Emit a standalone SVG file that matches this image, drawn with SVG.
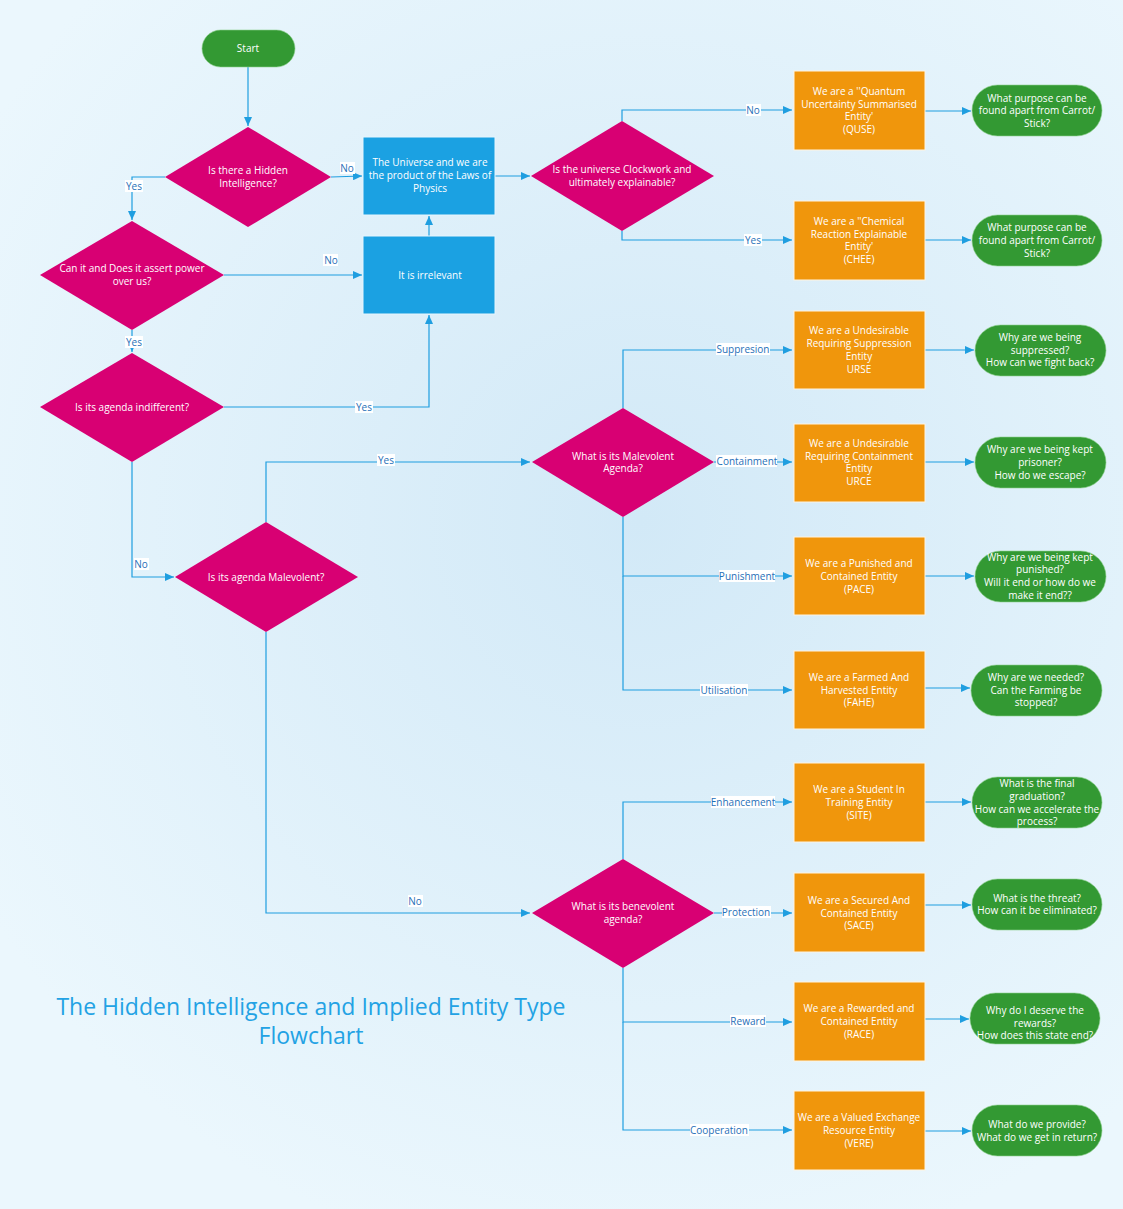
<svg xmlns="http://www.w3.org/2000/svg" width="1123" height="1209" viewBox="0 0 1123 1209">
<defs>
<radialGradient id="bg" cx="640" cy="520" r="760" gradientUnits="userSpaceOnUse">
<stop offset="0" stop-color="#d2e9f7"/>
<stop offset="1" stop-color="#ebf7fd"/>
</radialGradient>
<marker id="arr" markerWidth="9" markerHeight="8" refX="9" refY="4" orient="auto" markerUnits="userSpaceOnUse">
<path d="M0,0 L9,4 L0,8 Z" fill="#1f9ee0"/>
</marker>
<style>
text{font-family:"Open Sans","Noto Sans",sans-serif;}
.n text{fill:#ffffff;font-size:10px;text-anchor:middle;}
.dia{fill:#d80073;}
.org{fill:#f0960c;stroke:#fff4e0;stroke-width:1;}
.blu{fill:#1ba1e2;stroke:#e6f5fd;stroke-width:1;}
.grn{fill:#339933;stroke:#8fd08f;stroke-width:0.6;}
.c path{fill:none;stroke:#1f9ee0;stroke-width:1.2;marker-end:url(#arr);}
.lb rect{fill:#ffffff;}
.lb text{fill:#1f6fb8;font-size:10px;text-anchor:middle;}
.title{fill:#23a2e4;font-size:23px;text-anchor:middle;}
</style>
</defs>
<rect x="0" y="0" width="1123" height="1209" fill="url(#bg)"/>

<g id="connectors" class="c">
<path d="M248,67 V126"/>
<path d="M331,177 L362,176"/>
<path d="M429,236 V216"/>
<path d="M495,176 H530"/>
<path d="M622,121 V110 H792"/>
<path d="M622,231 V240 H792"/>
<path d="M925,111 H971"/>
<path d="M925,240 H971"/>
<path d="M165,177 H132 V220"/>
<path d="M224,275 H362"/>
<path d="M132,330 V352"/>
<path d="M224,407 H429 V315"/>
<path d="M132,462 V577 H174"/>
<path d="M266,522 V462 H530"/>
<path d="M266,632 V913 H530"/>
<path d="M623,408 V350 H792"/>
<path d="M714,462 H792"/>
<path d="M623,517 V576 H792"/>
<path d="M623,576 V690 H792"/>
<path d="M925,350 H974"/>
<path d="M925,462 H974"/>
<path d="M925,576 H974"/>
<path d="M919,688 H970"/>
<path d="M623,859 V802 H792"/>
<path d="M714,913 H792"/>
<path d="M623,968 V1022 H792"/>
<path d="M623,1022 V1130 H792"/>
<path d="M925,802 H971"/>
<path d="M922,905 H971"/>
<path d="M920,1019 H969"/>
<path d="M922,1131 H971"/>
</g>

<g id="labels" class="lb">
<rect x="340" y="162" width="15" height="12"/><text x="347" y="172">No</text>
<rect x="125" y="180" width="18" height="12"/><text x="134" y="190">Yes</text>
<rect x="323" y="254" width="15" height="12"/><text x="331" y="264">No</text>
<rect x="125" y="336" width="18" height="12"/><text x="134" y="346">Yes</text>
<rect x="355" y="401" width="18" height="12"/><text x="364" y="411">Yes</text>
<rect x="134" y="558" width="15" height="12"/><text x="141" y="568">No</text>
<rect x="377" y="454" width="18" height="12"/><text x="386" y="464">Yes</text>
<rect x="408" y="895" width="15" height="12"/><text x="415" y="905">No</text>
<rect x="746" y="104" width="15" height="12"/><text x="753" y="114">No</text>
<rect x="744" y="234" width="18" height="12"/><text x="753" y="244">Yes</text>
<rect x="716" y="343" width="54" height="12"/><text x="743" y="353">Suppresion</text>
<rect x="716" y="455" width="61" height="12"/><text x="747" y="465">Containment</text>
<rect x="719" y="570" width="56" height="12"/><text x="747" y="580">Punishment</text>
<rect x="700" y="684" width="48" height="12"/><text x="724" y="694">Utilisation</text>
<rect x="711" y="796" width="64" height="12"/><text x="743" y="806">Enhancement</text>
<rect x="722" y="906" width="49" height="12"/><text x="746" y="916">Protection</text>
<rect x="730" y="1015" width="36" height="12"/><text x="748" y="1025">Reward</text>
<rect x="690" y="1124" width="59" height="12"/><text x="719" y="1134">Cooperation</text>
</g>

<g id="start" class="n"><rect class="grn" x="202" y="30" width="93" height="37" rx="18.5"/><text x="248" y="52">Start</text></g>

<g id="d1" class="n"><polygon class="dia" points="248,127 331,177 248,227 165,177"/><text x="248" y="174">Is there a Hidden</text><text x="248" y="187">Intelligence?</text></g>

<g id="universe" class="n"><rect class="blu" x="363" y="137" width="132" height="78"/><text x="430" y="166">The Universe and we are</text><text x="430" y="179">the product of the Laws of</text><text x="430" y="192">Physics</text></g>

<g id="irrelevant" class="n"><rect class="blu" x="363" y="236" width="132" height="78"/><text x="430" y="279">It is irrelevant</text></g>

<g id="d3" class="n"><polygon class="dia" points="622,121 714,176 622,231 531,176"/><text x="622" y="173">Is the universe Clockwork and</text><text x="622" y="186">ultimately explainable?</text></g>

<g id="d2" class="n"><polygon class="dia" points="132,221 224,275 132,330 40,275"/><text x="132" y="272">Can it and Does it  assert power</text><text x="132" y="285">over us?</text></g>

<g id="d4" class="n"><polygon class="dia" points="132,353 224,407 132,462 40,407"/><text x="132" y="411">Is its agenda indifferent?</text></g>

<g id="d5" class="n"><polygon class="dia" points="266,522 358,577 266,632 175,577"/><text x="266" y="581">Is its agenda Malevolent?</text></g>

<g id="d6" class="n"><polygon class="dia" points="623,408 714,462 623,517 532,462"/><text x="623" y="460">What is its  Malevolent</text><text x="623" y="472">Agenda?</text></g>

<g id="d7" class="n"><polygon class="dia" points="623,859 714,913 623,968 532,913"/><text x="623" y="910">What is its  benevolent</text><text x="623" y="923">agenda?</text></g>

<g id="quse" class="n"><rect class="org" x="794" y="71" width="131" height="79"/><text x="859" y="95">We are a ''Quantum</text><text x="859" y="108">Uncertainty Summarised</text><text x="859" y="120">Entity'</text><text x="859" y="133">(QUSE)</text></g>
<g id="chee" class="n"><rect class="org" x="794" y="201" width="131" height="79"/><text x="859" y="225">We are a ''Chemical</text><text x="859" y="238">Reaction Explainable</text><text x="859" y="250">Entity'</text><text x="859" y="263">(CHEE)</text></g>
<g id="urse" class="n"><rect class="org" x="794" y="311" width="131" height="78"/><text x="859" y="334">We are a Undesirable</text><text x="859" y="347">Requiring Suppression</text><text x="859" y="360">Entity</text><text x="859" y="373">URSE</text></g>
<g id="urce" class="n"><rect class="org" x="794" y="424" width="131" height="78"/><text x="859" y="447">We are a Undesirable</text><text x="859" y="460">Requiring Containment</text><text x="859" y="472">Entity</text><text x="859" y="485">URCE</text></g>
<g id="pace" class="n"><rect class="org" x="794" y="537" width="131" height="78"/><text x="859" y="567">We are a Punished and</text><text x="859" y="580">Contained Entity</text><text x="859" y="593">(PACE)</text></g>
<g id="fahe" class="n"><rect class="org" x="794" y="651" width="131" height="78"/><text x="859" y="681">We are a Farmed And</text><text x="859" y="694">Harvested Entity</text><text x="859" y="706">(FAHE)</text></g>
<g id="site" class="n"><rect class="org" x="794" y="763" width="131" height="79"/><text x="859" y="793">We are a Student In</text><text x="859" y="806">Training Entity</text><text x="859" y="819">(SITE)</text></g>
<g id="sace" class="n"><rect class="org" x="794" y="873" width="131" height="79"/><text x="859" y="904">We are a Secured And</text><text x="859" y="917">Contained Entity</text><text x="859" y="929">(SACE)</text></g>
<g id="race" class="n"><rect class="org" x="794" y="982" width="131" height="79"/><text x="859" y="1012">We are a Rewarded and</text><text x="859" y="1025">Contained Entity</text><text x="859" y="1038">(RACE)</text></g>
<g id="vere" class="n"><rect class="org" x="794" y="1091" width="131" height="79"/><text x="859" y="1121">We are a Valued Exchange</text><text x="859" y="1134">Resource Entity</text><text x="859" y="1147">(VERE)</text></g>

<g id="q1" class="n"><rect class="grn" x="972" y="85" width="130" height="51" rx="25.5"/><text x="1037" y="102">What purpose can be</text><text x="1037" y="114">found apart from Carrot/</text><text x="1037" y="127">Stick?</text></g>
<g id="q2" class="n"><rect class="grn" x="972" y="215" width="130" height="51" rx="25.5"/><text x="1037" y="231">What purpose can be</text><text x="1037" y="244">found apart from Carrot/</text><text x="1037" y="257">Stick?</text></g>
<g id="q3" class="n"><rect class="grn" x="975" y="325" width="131" height="51" rx="25.5"/><text x="1040" y="341">Why are we being</text><text x="1040" y="354">suppressed?</text><text x="1040" y="366">How can we fight back?</text></g>
<g id="q4" class="n"><rect class="grn" x="975" y="437" width="131" height="51" rx="25.5"/><text x="1040" y="453">Why are we being kept</text><text x="1040" y="466">prisoner?</text><text x="1040" y="479">How do we escape?</text></g>
<g id="q5" class="n"><rect class="grn" x="975" y="551" width="131" height="51" rx="25.5"/><text x="1040" y="561">Why are we being kept</text><text x="1040" y="573">punished?</text><text x="1040" y="586">Will it end or how do we</text><text x="1040" y="599">make it end??</text></g>
<g id="q6" class="n"><rect class="grn" x="971" y="665" width="131" height="51" rx="25.5"/><text x="1036" y="681">Why are we needed?</text><text x="1036" y="694">Can the Farming be</text><text x="1036" y="706">stopped?</text></g>
<g id="q7" class="n"><rect class="grn" x="972" y="777" width="130" height="51" rx="25.5"/><text x="1037" y="787">What is the final</text><text x="1037" y="800">graduation?</text><text x="1037" y="813">How can we accelerate the</text><text x="1037" y="825">process?</text></g>
<g id="q8" class="n"><rect class="grn" x="972" y="879" width="130" height="51" rx="25.5"/><text x="1037" y="902">What is the threat?</text><text x="1037" y="914">How can it be eliminated?</text></g>
<g id="q9" class="n"><rect class="grn" x="970" y="993" width="130" height="51" rx="25.5"/><text x="1035" y="1014">Why do I deserve the</text><text x="1035" y="1027">rewards?</text><text x="1035" y="1039">How does this state end?</text></g>
<g id="q10" class="n"><rect class="grn" x="972" y="1105" width="130" height="51" rx="25.5"/><text x="1037" y="1128">What do we provide?</text><text x="1037" y="1141">What do we get in return?</text></g>

<g id="title">
<text class="title" x="311" y="1015">The Hidden Intelligence and Implied Entity Type</text>
<text class="title" x="311" y="1044">Flowchart</text>
</g>
</svg>
